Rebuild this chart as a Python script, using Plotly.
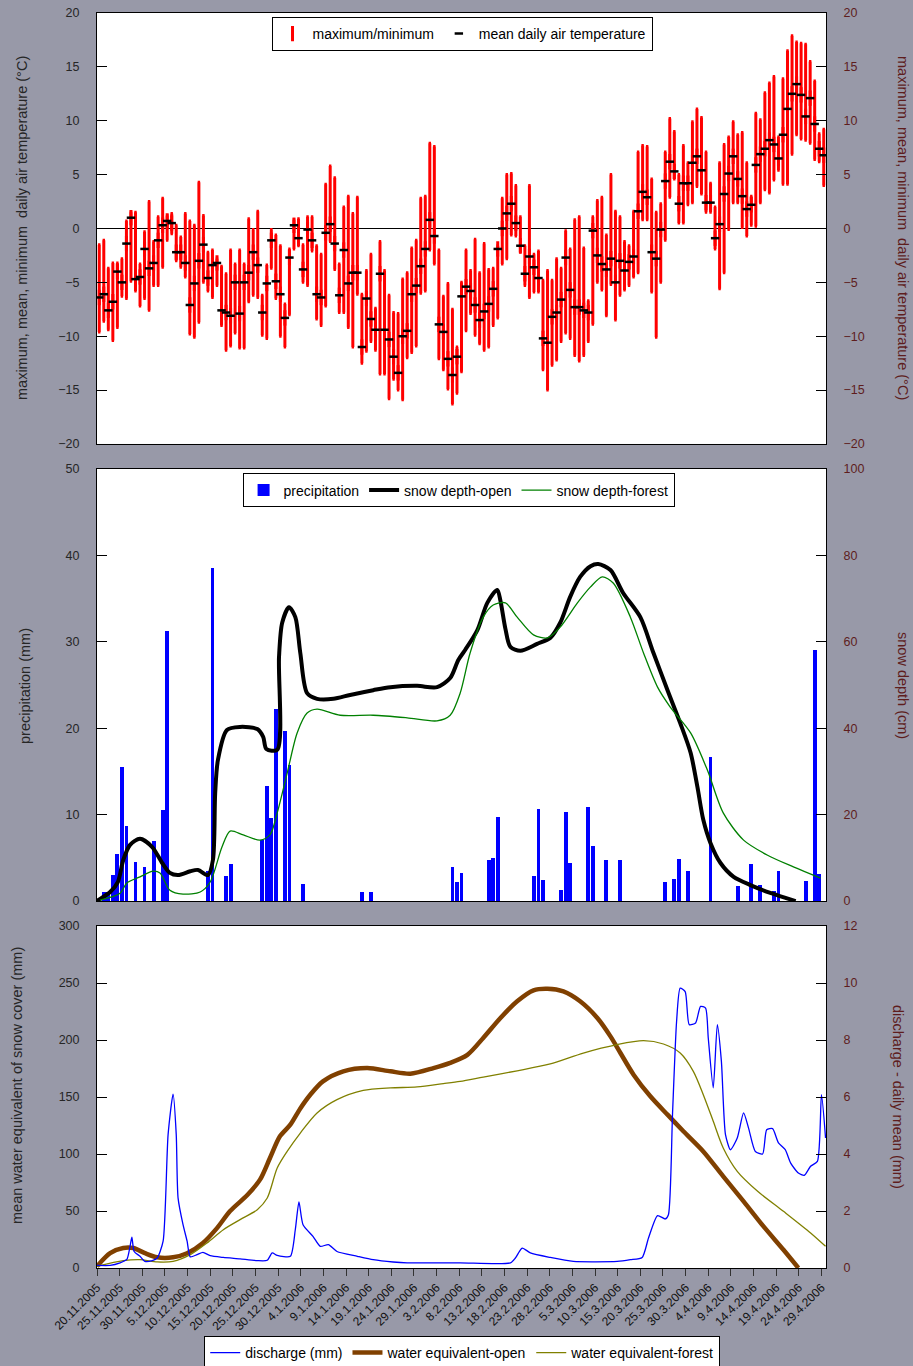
import datetime as dt
import plotly.graph_objects as go

START = dt.date(2005, 11, 20)
N_DAYS = 161

# ---------------- daily air temperature (deg C), one value per day from 20.11.2005
t_max = [-1.5, -1.1, -3.7, -3.2, -3.2, -2.8, 0.7, 1.5, 1.5, -3.3,
         -0.3, 2.5, -1.2, 1.1, 2.8, 1.2, 1.4, 0.3, -0.8, 1.4,
         0.7, 0.3, 4.3, 1.2, -2.2, -2.0, -2.8, -3.5, -4.2, -2.0,
         -3.3, -2.0, -3.3, 0.9, -0.1, 1.6, -6.2, -3.4, -0.1, -0.6,
         -1.6, -7.0, -1.9, 0.8, 0.9, -1.5, 1.1, 1.1, -1.6, -2.4,
         4.1, 5.8, 4.7, -3.3, 2.0, 3.0, 1.4, 2.9, -6.1, -3.9,
         -2.4, -7.4, -1.2, -3.9, -6.2, -7.8, -7.9, -4.7, -4.1, -1.8,
         -1.1, 2.8, 3.0, 7.9, 7.6, -2.0, -6.3, -5.1, -7.5, -11.0,
         -5.0,
         -2.0, -3.9, -1.0, -4.1, -1.4, -3.8, -3.7, -1.6, 2.8, 5.0,
         5.1, 4.0, 1.1, -1.6, 4.0, -2.4, -2.1, -4.8, -3.9, -4.8,
         -2.8, -3.7, -0.2, -1.9, 0.8, 1.1, -1.8, -6.7, 1.1, 2.6,
         2.9, -0.6, 5.0, 1.6, 1.1, -1.2, -1.6, 1.6, 7.1, 7.7,
         7.6, 4.6, 1.5, 2.3, 7.1, 10.2, 9.0, 5.0, 7.7, 6.1,
         9.9, 11.1, 10.3, 7.1, 4.2, 2.0, 6.1, 7.8, 8.5, 9.9,
         8.7, 8.9, 6.1, 3.0, 10.7, 10.1, 12.6, 13.5, 14.1, 8.5,
         13.9, 16.5, 17.9, 17.3, 17.2, 17.1, 15.5, 13.7, 8.8, 9.2]
t_min = [-9.6, -8.6, -9.4, -10.4, -9.2, -6.3, -6.5, -4.9, -5.8, -7.2,
         -6.5, -7.6, -5.3, -5.3, -3.6, -1.1, -0.5, -3.0, -3.6, -4.5,
         -9.8, -10.1, -8.7, -5.0, -5.8, -6.4, -5.3, -9.0, -11.3, -10.9,
         -9.7, -11.1, -11.1, -6.8, -6.2, -6.4, -9.9, -10.2, -3.7, -6.5,
         -10.0, -11.0, -8.0, -1.9, -1.6, -5.0, -5.3, -2.1, -8.4, -9.0,
         -7.2, -1.2, -3.8, -7.8, -7.8, -9.2, -11.0, -6.1, -12.5, -11.4,
         -10.5, -11.3, -13.5, -13.5, -15.8, -14.0, -15.0, -15.9, -12.0, -11.5,
         -10.9, -6.0, -5.8, -2.0, -3.3, -12.1, -13.1, -14.9, -16.3, -15.3,
         -13.3,
         -9.5, -7.9, -9.9, -10.7, -11.3, -11.0, -9.0, -8.3, -3.3, -2.8,
         -0.6, -0.7, -2.2, -5.3, -6.4, -5.9, -5.9, -13.1, -15.0, -12.7,
         -12.2, -10.5, -9.7, -10.2, -11.8, -12.3, -11.8, -10.5, -8.9, -5.0,
         -5.7, -8.1, -5.2, -8.5, -6.2, -5.7, -5.3, -4.5, -4.1, 0.8,
         0.8, -5.9, -10.1, -5.0, -1.1, 2.9, 4.6, 0.5, 0.5, 2.2,
         2.4, 3.9, 3.2, 1.5, 1.5, -1.9, -5.6, -4.1, -0.1, 2.4,
         2.4, 0.1, -0.7, 0.3, 0.2, 2.4, 3.6, 3.3, 4.5, 5.4,
         4.1, 4.1, 6.9, 8.7, 8.3, 8.2, 7.9, 6.4, 6.2, 4.0]
t_mean = [-6.4, -6.1, -7.6, -6.8, -4.0, -5.0, -1.4, 1.0, -4.7, -4.5,
          -1.9, -3.7, -3.2, -1.1, 0.3, 0.7, 0.5, -2.2, -2.2, -3.2,
          -7.1, -5.1, -3.0, -1.5, -4.6, -3.4, -3.2, -7.6, -7.8, -8.1,
          -5.0, -7.9, -5.0, -4.1, -2.2, -3.4, -7.8, -5.1, -1.1, -4.9,
          -6.1, -8.3, -2.7, 0.3, -0.9, -3.8, -0.1, -1.1, -6.1, -6.4,
          -0.4, 0.4, -1.4, -6.2, -2.0, -5.1, -4.1, -4.1, -11.0, -6.5,
          -8.4, -9.4, -4.2, -9.4, -10.3, -11.9, -13.4, -10.0, -9.5, -6.1,
          -5.3, -3.5, -1.9, 0.8, -0.7, -8.9, -9.6, -12.1, -13.6, -11.9,
          -6.3,
          -5.4, -5.8, -7.1, -8.5, -7.7, -7.0, -5.6, -1.9, 0.0, 1.4,
          2.3, 0.5, -1.6, -4.2, -2.6, -3.6, -4.6, -10.2, -10.6, -8.2,
          -7.8, -6.6, -2.7, -5.7, -7.3, -7.3, -7.6, -7.8, -0.2, -2.5,
          -3.3, -3.8, -2.8, -5.0, -3.0, -3.9, -3.1, -2.6, 1.6, 3.4,
          2.9, -2.2, -2.8, -0.1, 4.4, 6.2, 5.3, 2.3, 4.2, 4.2,
          6.1, 6.7, 5.4, 2.4, 2.4, -0.9, 0.4, 3.2, 5.1, 6.7,
          4.6, 3.0, 1.8, 2.2, 5.9, 6.9, 7.4, 8.2, 7.8, 6.5,
          8.7, 11.1, 12.5, 13.4, 12.4, 10.4, 12.1, 9.7, 7.4, 6.8]

# ---------------- precipitation (mm): day index (days after 20.11.2005) and amount
precip_day = [1, 2, 3, 4, 5, 6, 8, 10, 12, 14, 15, 24, 25, 28, 29, 36, 37, 38, 39, 41,
              42, 45, 58, 60, 78, 79, 80, 86, 87, 88, 96, 97, 98, 102, 103, 104, 108, 109,
              112, 115, 125, 127, 128, 130, 135, 141, 144, 146, 149, 150, 156, 158, 159]
precip_mm = [1.1, 1.1, 3.0, 5.4, 15.5, 8.7, 4.5, 4.0, 7.0, 10.5, 31.2, 3.5, 38.6, 2.9, 4.3,
             7.1, 13.3, 9.6, 22.2, 19.7, 15.7, 2.0, 1.1, 1.1, 4.0, 2.2, 3.3, 4.7, 5.0, 9.7,
             2.9, 10.6, 2.4, 1.3, 10.3, 4.4, 10.9, 6.4, 4.7, 4.7, 2.2, 2.5, 4.9, 3.5, 16.7,
             1.8, 4.3, 1.9, 1.2, 3.5, 2.3, 29.1, 3.1]

# ---------------- snow depth (cm)
snow_open_day = [0.0, 0.7, 2.9, 4.6, 5.8, 7.3, 9.5, 12.2, 14.4, 16.1, 17.9, 20.6, 22.3, 24.5,
                 25.6, 26.1, 26.7, 28.7, 31.6, 35.4, 36.7, 37.4, 39.8, 40.2, 40.9, 42.4, 43.8,
                 44.9, 46.4, 48.6, 52.2, 55.9, 61.0, 64.8, 70.7, 75.1, 78.0, 79.8, 81.3, 84.0,
                 86.2, 88.4, 89.1, 90.2, 91.3, 93.5, 97.2, 100.1, 102.3, 104.5, 106.7, 109.0,
                 110.7, 113.4, 116.2, 120.0, 122.9, 126.0, 128.8, 131.1, 132.6, 133.9, 135.5,
                 137.7, 140.6, 144.3, 148.7, 154.3]
snow_open_cm = [0.0, 0.5, 2.1, 4.4, 9.5, 13.0, 14.4, 12.5, 8.8, 6.5, 6.0, 6.9, 7.2, 6.0,
                9.5, 25.0, 32.6, 39.6, 40.3, 39.8, 38.0, 35.2, 35.0, 56.5, 64.4, 68.0, 65.7,
                57.4, 48.1, 46.8, 46.8, 47.7, 48.8, 49.5, 49.8, 49.5, 51.6, 55.8, 58.1, 62.7,
                69.0, 72.0, 69.5, 63.0, 58.8, 57.9, 59.5, 60.9, 64.4, 70.4, 75.0, 77.5,
                78.0, 76.6, 71.3, 65.7, 57.4, 48.8, 41.2, 34.3, 26.4, 18.8, 13.4,
                8.8, 5.6, 3.7, 1.9, 0.0]
snow_forest_day = [0.7, 5.1, 6.6, 9.5, 12.4, 13.9, 16.1, 19.0, 22.8, 25.0, 27.6, 29.4, 32.3,
                   36.0, 38.2, 39.8, 42.0, 44.2, 46.4, 48.6, 53.7, 61.0, 68.5, 75.1, 78.0,
                   80.2, 82.4, 85.3, 87.5, 90.2, 92.8, 96.4, 99.5, 102.3, 106.1, 109.0, 111.6,
                   114.0, 117.8, 120.7, 123.8, 126.6, 131.1, 134.8, 138.3, 142.8, 148.1,
                   153.8, 159.8]
snow_forest_cm = [0.2, 1.8, 4.2, 5.6, 6.9, 6.5, 2.5, 1.6, 2.1, 4.4, 12.5, 16.2, 15.3,
                  14.1, 15.3, 20.4, 29.6, 38.9, 43.5, 44.4, 43.0, 43.0, 42.4, 41.7, 43.0,
                  48.1, 57.4, 65.7, 68.5, 69.0, 65.7, 61.6, 60.9, 63.4, 69.0, 72.7, 75.0,
                  73.6, 65.7, 57.4, 49.5, 44.9, 38.9, 30.3, 20.4, 14.1, 10.6,
                  7.9, 5.3]

# ---------------- water equivalent of snow cover (mm)
we_open_day = [0.0, 2.9, 5.8, 8.0, 10.6, 13.3, 16.8, 19.9, 23.4, 26.5, 29.4, 33.2, 36.0,
               38.2, 40.4, 42.7, 44.9, 47.1, 49.9, 54.4, 59.7, 64.8, 69.2, 74.3, 78.0, 81.8,
               85.3, 89.1, 92.8, 96.4, 99.5, 103.0, 106.7, 110.5, 113.4, 115.6, 118.5,
               122.2, 126.0, 129.5, 133.9, 138.3, 142.8, 147.2, 151.6, 154.9]
we_open_mm = [1.5, 13.0, 17.5, 17.5, 13.0, 9.4, 9.4, 13.0, 22.0, 35.0, 50.0, 64.0, 77.5,
              96.5, 115.5, 125.7, 140.0, 152.0, 163.7, 172.5, 175.4, 172.5, 170.5, 175.4,
              180.0, 187.0, 201.8, 219.3, 234.0, 243.6, 245.0, 242.7, 234.0, 219.3, 203.2,
              188.6, 169.6, 150.6, 134.5, 120.0, 102.3, 80.4, 58.5, 36.5, 16.0, 0.0]
we_forest_day = [0.0, 5.8, 9.5, 13.3, 16.8, 20.6, 24.3, 27.9, 31.6, 35.4, 37.6, 39.8, 42.0,
                 44.9, 48.6, 53.0, 58.8, 64.8, 70.7, 76.5, 80.2, 85.3, 92.8, 100.1, 107.4,
                 114.9, 120.7, 125.1, 128.8, 131.7, 133.9, 136.1, 138.3, 141.4, 145.9,
                 151.6, 157.6, 160.9]
we_forest_mm = [1.5, 6.4, 7.3, 5.3, 5.8, 11.7, 22.0, 33.6, 42.4, 51.2, 61.4, 87.7, 102.3,
                118.4, 136.0, 147.7, 155.8, 158.0, 158.8, 161.7, 163.7, 167.5, 173.0, 179.0,
                188.6, 196.0, 199.4, 196.5, 188.6, 172.5, 152.0, 128.7, 105.3, 84.8, 67.3,
                49.7, 30.7, 19.0]

# ---------------- discharge - daily mean (mm)
q_day = [0.0, 2.9, 5.1, 6.6, 7.3, 7.7, 8.2, 9.5, 10.6, 12.2, 13.3, 14.6, 15.7, 16.8, 17.5,
         17.9, 19.0, 19.9, 20.6, 22.1, 23.4, 25.0, 27.9, 31.6, 35.4, 37.6, 38.7, 39.8, 42.7,
         43.8, 44.6, 45.5, 47.7, 49.3, 51.1, 53.0, 57.5, 61.0, 65.4, 68.5, 80.2, 91.3, 92.4,
         93.9, 95.7, 100.1, 105.2, 114.9, 117.8, 120.4, 121.8, 123.8, 125.5, 126.2, 127.1,
         128.0, 128.8, 129.9, 130.8, 132.2, 133.3, 134.4, 135.0, 136.1, 137.0, 137.9, 138.8,
         139.9, 141.4, 142.8, 143.9, 145.4, 147.0, 147.9, 149.2, 150.5, 152.0, 153.2, 154.9,
         156.2, 157.6, 159.1, 160.0, 160.9]
q_mm = [0.09, 0.09, 0.18, 0.30, 0.76, 1.08, 0.58, 0.41, 0.23, 0.26, 0.35, 0.94, 4.68, 6.10,
        4.68, 2.46, 1.52, 0.94, 0.39, 0.47, 0.55, 0.43, 0.37, 0.32, 0.26, 0.27, 0.53, 0.44,
        0.41, 1.35, 2.32, 1.52, 1.11, 0.76, 0.82, 0.58, 0.41, 0.29, 0.21, 0.18, 0.18, 0.18,
        0.35, 0.70, 0.53, 0.37, 0.23, 0.23, 0.29, 0.37, 1.05, 1.84, 1.72, 1.87, 5.38, 8.65,
        9.82, 9.70, 8.54, 8.60, 9.18, 9.12, 8.07, 6.32, 8.54, 7.25, 4.68, 4.15, 4.56, 5.44,
        4.91, 4.09, 4.00, 4.85, 4.89, 4.39, 4.15, 3.68, 3.33, 3.25, 3.57, 3.74, 6.08, 4.56]

TICK_STEP = 5
tick_days = list(range(0, N_DAYS, TICK_STEP))
tick_text = []
for k in tick_days:
    d = START + dt.timedelta(days=k)
    tick_text.append(f"{d.day}.{d.month}.{d.year}")

# ---------------- styling
FONT = "Liberation Sans, Arial, Helvetica, sans-serif"
DARK = "#262626"
MAROON = "#5e1d1d"
BG = "#9899a8"

day_mid = [i + 0.5 for i in range(len(t_mean))]
prec_mid = [d + 0.5 for d in precip_day]
err_up = [mx - m for mx, m in zip(t_max, t_mean)]
err_dn = [m - mn for mn, m in zip(t_min, t_mean)]

fig = go.Figure()

# panel 1: temperature
fig.add_trace(go.Scatter(
    x=day_mid, y=t_mean, mode="markers", name="maximum/minimum",
    xaxis="x", yaxis="y", legend="legend",
    marker=dict(symbol="line-ns", size=11, color="red", line=dict(width=3, color="red")),
    error_y=dict(type="data", symmetric=False, array=err_up, arrayminus=err_dn,
                 color="red", thickness=3, width=1.2),
    hoverinfo="skip"))
fig.add_trace(go.Scatter(
    x=day_mid, y=t_mean, mode="markers", name="mean daily air temperature",
    xaxis="x", yaxis="y2", legend="legend",
    marker=dict(symbol="line-ew", size=6, color="black", line=dict(width=2.5, color="black")),
    hoverinfo="skip"))

# panel 2: precipitation and snow depth
fig.add_trace(go.Bar(
    x=prec_mid, y=precip_mm, name="precipitation", width=0.85,
    xaxis="x2", yaxis="y3", legend="legend2",
    marker=dict(color="#0000ff", line=dict(width=0))))
fig.add_trace(go.Scatter(
    x=snow_open_day, y=snow_open_cm, mode="lines", name="snow depth-open",
    xaxis="x2", yaxis="y4", legend="legend2",
    line=dict(color="black", width=4, shape="spline", smoothing=0.8)))
fig.add_trace(go.Scatter(
    x=snow_forest_day, y=snow_forest_cm, mode="lines", name="snow depth-forest",
    xaxis="x2", yaxis="y4", legend="legend2",
    line=dict(color="#008000", width=1.3, shape="spline", smoothing=0.8)))

# panel 3: water equivalent and discharge
fig.add_trace(go.Scatter(
    x=q_day, y=q_mm, mode="lines", name="discharge (mm)", legendrank=1,
    xaxis="x3", yaxis="y6", legend="legend3",
    line=dict(color="#0000ff", width=1.3, shape="spline", smoothing=0.6)))
fig.add_trace(go.Scatter(
    x=we_open_day, y=we_open_mm, mode="lines", name="water equivalent-open", legendrank=2,
    xaxis="x3", yaxis="y5", legend="legend3",
    line=dict(color="#804000", width=4.5, shape="spline", smoothing=0.8)))
fig.add_trace(go.Scatter(
    x=we_forest_day, y=we_forest_mm, mode="lines", name="water equivalent-forest", legendrank=3,
    xaxis="x3", yaxis="y5", legend="legend3",
    line=dict(color="#808000", width=1.3, shape="spline", smoothing=0.8)))

D1 = [0.6566, 1.0]
D2 = [0.2924, 0.6367]
D3 = [0.0, 0.2725]
XR = [0, N_DAYS]

xbase = dict(range=XR, showgrid=False, zeroline=False, showline=True, mirror=True,
             linecolor="black", linewidth=1, automargin=False)
ybase = dict(showgrid=False, ticks="inside", ticklen=10, tickwidth=1, tickcolor="black",
             showline=True, linecolor="black", linewidth=1, ticklabelstandoff=14,
             automargin=False,
             tickfont=dict(size=12.5, color=DARK, family=FONT))
yright = dict(ybase, side="right", tickfont=dict(size=12.5, color=MAROON, family=FONT))

legend_common = dict(orientation="h", bgcolor="white", bordercolor="black", borderwidth=1,
                     font=dict(size=14, color="black", family=FONT), xanchor="center",
                     yanchor="top", itemwidth=30, tracegroupgap=0)

fig.update_layout(
    width=913, height=1366,
    margin=dict(l=97, r=87, t=13, b=98, autoexpand=False),
    paper_bgcolor=BG, plot_bgcolor="white",
    font=dict(family=FONT, color=DARK),
    showlegend=True,
    bargap=0,
    xaxis=dict(xbase, domain=[0, 1], anchor="y", showticklabels=False, ticks=""),
    xaxis2=dict(xbase, domain=[0, 1], anchor="y3", showticklabels=False, ticks=""),
    xaxis3=dict(xbase, domain=[0, 1], anchor="y5", tickmode="array", tickvals=tick_days,
                ticktext=tick_text, tickangle=-45, ticks="outside", ticklen=7,
                tickcolor="#333333", tickfont=dict(size=12, color="#111111", family=FONT)),
    yaxis=dict(ybase, domain=D1, anchor="x", range=[-20, 20], dtick=5,
               zeroline=True, zerolinecolor="black", zerolinewidth=1),
    yaxis2=dict(yright, overlaying="y", anchor="x", range=[-20, 20], dtick=5, zeroline=False),
    yaxis3=dict(ybase, domain=D2, anchor="x2", range=[0, 50], dtick=10, zeroline=False),
    yaxis4=dict(yright, overlaying="y3", anchor="x2", range=[0, 100], dtick=20, zeroline=False),
    yaxis5=dict(ybase, domain=D3, anchor="x3", range=[0, 300], dtick=50, zeroline=False),
    yaxis6=dict(yright, overlaying="y5", anchor="x3", range=[0, 12], dtick=2, zeroline=False),
    legend=dict(legend_common, x=0.5007, y=0.9968),
    legend2=dict(legend_common, x=0.496, y=0.6331),
    legend3=dict(legend_common, x=0.501, y=-0.0542),
)

def title(text, px_x, px_y, right=False):
    fig.add_annotation(
        text=text, xref="paper", yref="paper",
        x=(px_x - 97) / 729, y=(1268 - px_y) / 1255,
        xanchor="center", yanchor="middle", showarrow=False,
        textangle=90 if right else -90,
        font=dict(size=14.5, family=FONT, color=MAROON if right else DARK))

title("maximum, mean, minimum \u00a0daily air temperature (°C)", 22, 228)
title("maximum, mean, minimum \u00a0daily air temperature (°C)", 903, 228, right=True)
title("precipitation (mm)", 25, 686)
title("snow depth (cm)", 903, 685, right=True)
title("mean water equivalent of snow cover (mm)", 17, 1086)
title("discharge - daily mean (mm)", 898, 1097, right=True)

fig.write_html("out.html")
